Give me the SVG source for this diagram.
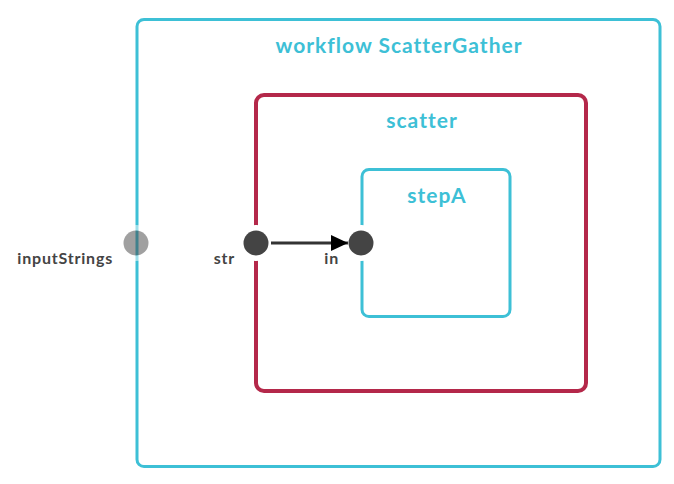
<svg xmlns="http://www.w3.org/2000/svg" width="674" height="484" viewBox="0 0 674 484">
<style>
.wf{fill:none;stroke:#3dc0d6;stroke-width:3}
.sc{fill:none;stroke:#b4284a;stroke-width:4}
.title{font-family:Lato,"Liberation Sans",sans-serif;font-weight:bold;fill:#3dc0d6;text-anchor:middle;font-size:21px;letter-spacing:1px}
.lbl{font-family:Lato,"Liberation Sans",sans-serif;font-weight:bold;font-size:16px;letter-spacing:0.8px;fill:#444}
.port{fill:#444;stroke:#fff;stroke-width:11;paint-order:stroke}
.edge{stroke:#333;stroke-width:3;fill:none}
</style>
<defs>
<marker id="arr" markerUnits="userSpaceOnUse" markerWidth="18" markerHeight="16" refX="17" refY="8" orient="auto">
<path d="M0,0 L17,8 L0,16 Z" fill="#000"/>
</marker>
</defs>
<g id="workflow">
<rect class="wf" x="137" y="19.5" width="523" height="447" rx="7"/>
<text class="title" x="399" y="52.5">workflow ScatterGather</text>
</g>
<g id="scatter">
<rect class="sc" x="256" y="95" width="330" height="296" rx="8"/>
<text class="title" x="422" y="128">scatter</text>
</g>
<g id="stepA">
<rect class="wf" x="362" y="169.5" width="148" height="147" rx="7"/>
<text class="title" x="437" y="203">stepA</text>
</g>
<g id="port-inputStrings">
<circle class="port" cx="136" cy="243" r="12.5" opacity="0.5"/>
<text class="lbl" x="113" y="264" text-anchor="end">inputStrings</text>
</g>
<g id="port-str">
<circle class="port" cx="256" cy="243" r="12.5"/>
<text class="lbl" x="235" y="264" text-anchor="end">str</text>
</g>
<g id="port-in">
<circle class="port" cx="361" cy="243" r="12.5"/>
<text class="lbl" x="339" y="264" text-anchor="end">in</text>
</g>
<g id="connectors">
<line class="edge" x1="271" y1="243" x2="348" y2="243" marker-end="url(#arr)"/>
</g>
</svg>
